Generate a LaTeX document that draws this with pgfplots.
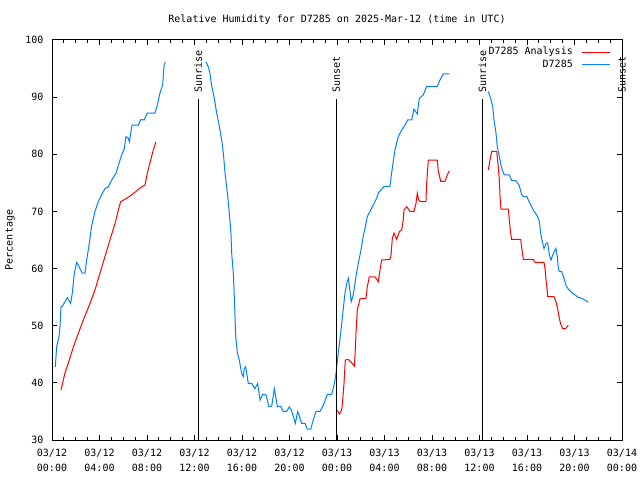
\documentclass[border=0pt]{standalone}
\usepackage{pgfplots}
\pgfplotsset{compat=1.18}
\usepackage{fontspec}
\setmainfont{DejaVu Sans Mono}
\definecolor{rhred}{RGB}{255,0,0}
\definecolor{rhblue}{RGB}{0,128,255}
\begin{document}
\fontsize{10pt}{12pt}\selectfont
\begin{tikzpicture}
\begin{axis}[
  at={(52pt,40pt)}, anchor=south west,
  scale only axis, width=570pt, height=400pt,
  xmin=0, xmax=48, ymin=30, ymax=100,
  clip=false,
  xtick={0,4,...,48},
  xticklabels={{03/12\\00:00},{03/12\\04:00},{03/12\\08:00},{03/12\\12:00},{03/12\\16:00},{03/12\\20:00},{03/13\\00:00},{03/13\\04:00},{03/13\\08:00},{03/13\\12:00},{03/13\\16:00},{03/13\\20:00},{03/14\\00:00}},
  x tick label style={align=center, font=\fontsize{10pt}{14.5pt}\selectfont, yshift=-6pt},
  y tick label style={xshift=-5pt},
  minor x tick num=3,
  ytick={30,40,...,100},
  /pgf/number format/assume math mode=true,
  tick align=inside,
  major tick length=5pt, minor tick length=3pt,
  every tick/.style={black, line width=1pt},
  axis line style={line width=1pt},
  ylabel={Percentage},
  ylabel style={at={(axis description cs:-0.0737,0.5)}, anchor=center},
  title={Relative Humidity for D7285 on 2025-Mar-12 (time in UTC)},
  title style={at={(axis description cs:0.5,1)}, anchor=center, yshift=14pt},
  unbounded coords=jump,
  legend cell align=right,
  legend plot pos=right,
  legend style={draw=none, fill=none, at={(rel axis cs:0.9807,0.985)}, anchor=north east, row sep=0pt, column sep=0pt, inner sep=0pt,
    nodes={inner sep=0pt, text height=8.5pt, text depth=4pt},
    /tikz/every odd column/.append style={column sep=9pt}},
  legend image code/.code={\draw[#1] (0pt,0pt) -- (28pt,0pt);},
]
\addlegendimage{rhred, line width=1pt}
\addlegendentry{D7285 Analysis}
\addlegendimage{rhblue, line width=1pt}
\addlegendentry{D7285}
\addplot[rhred, line width=1pt, forget plot] coordinates {
(0.76,38.75) (1.09,41.7) (1.46,44.0) (1.8,46.3) (2.22,48.7) (2.64,51.0) (3.2,53.9) (3.62,56.25) (4.04,59.2) (4.46,62.1) (4.88,65) (5.31,67.9) (5.59,70.25) (5.78,71.7) (6.29,72.3) (6.71,72.9) (7.13,73.6) (7.55,74.3) (7.83,74.6) (8.03,76.7) (8.31,79.0) (8.53,80.75) (8.76,82.2)
(15,nan)
(23.97,35.25) (24.2,34.55) (24.39,35.25) (24.47,36.7) (24.59,39.9) (24.7,44.0) (24.96,44.1) (25.24,43.5) (25.46,42.95) (25.52,44.9) (25.6,48.7) (25.71,52.75) (25.94,54.7) (26.44,54.8) (26.55,56.8) (26.72,58.55) (27.2,58.55) (27.48,57.7) (27.62,59.75) (27.76,61.5) (28.46,61.6) (28.55,62.4) (28.66,65.3) (28.8,66.2) (29.03,65.1) (29.25,66.45) (29.45,66.75) (29.58,68.5) (29.64,70.25) (29.87,70.8) (30.15,70) (30.48,70) (30.65,71.4) (30.76,73.2) (30.88,72.0) (31.04,71.7) (31.49,71.7) (31.55,74.9) (31.69,79.0) (32.45,79.0) (32.53,77.0) (32.74,75.25) (33.09,75.25) (33.29,76.4) (33.46,77.1)
(35,nan)
(36.74,77.25) (36.88,79.0) (37.03,80.5) (37.45,80.5) (37.58,77.8) (37.67,75.5) (37.73,72.6) (37.81,70.4) (38.43,70.4) (38.51,68.5) (38.62,66.2) (38.71,65.1) (39.47,65.1) (39.56,63.5) (39.64,62.4) (39.69,61.6) (40.53,61.6) (40.67,61.1) (41.43,61.1) (41.52,60.0) (41.6,58.0) (41.71,56.0) (41.71,55.1) (42.27,55.1) (42.44,54.2) (42.55,53.3) (42.64,52.3) (42.72,51.3) (42.84,50.3) (43.0,49.5) (43.25,49.5) (43.48,50.1)
};
\addplot[rhblue, line width=1pt, forget plot] coordinates {
(0.28,42.8) (0.39,46.3) (0.59,48.1) (0.67,49.8) (0.76,53.3) (0.87,53.4) (1.29,54.9) (1.57,53.9) (1.71,55.7) (1.88,59.2) (2.08,61.1) (2.55,59.2) (2.78,59.2) (2.92,61.5) (3.14,64.4) (3.34,67.5) (3.62,70) (3.9,71.7) (4.18,72.9) (4.46,74) (4.74,74.3) (5.03,75.5) (5.39,76.7) (5.59,78.1) (5.87,79.9) (6.09,81.0) (6.23,83.1) (6.43,82.8) (6.51,82.2) (6.74,85.1) (7.27,85.1) (7.49,86.1) (7.75,86.0) (8.03,87.2) (8.67,87.2) (8.87,88.6) (9.09,90.7) (9.32,92.1) (9.43,95.4) (9.54,96.2)
(11,nan)
(12.97,96.2) (13.16,95.3) (13.3,94.2) (13.45,91.9) (13.64,90.1) (13.87,87.2) (14.09,84.9) (14.29,82.5) (14.43,80.2) (14.57,76.7) (14.77,73.2) (14.93,69.7) (15.07,66.2) (15.13,62.7) (15.27,59.2) (15.35,55.1) (15.47,48.1) (15.61,45.2) (15.77,44) (15.97,41.7) (16.11,41.1) (16.19,42.5) (16.31,42.8) (16.53,39.9) (16.81,39.9) (17.09,39.0) (17.32,39.9) (17.52,37) (17.74,38.0) (18.02,37.9) (18.25,35.9) (18.5,35.9) (18.72,39.0) (18.98,35.9) (19.26,35.9) (19.48,35.0) (19.76,35.0) (19.98,35.8) (20.18,35.1) (20.49,32.9) (20.69,35.0) (21.03,32.9) (21.31,32.9) (21.5,31.9) (21.79,31.9) (22.0,33.5) (22.23,35.0) (22.57,35.0) (22.85,36.1) (23.19,38.0) (23.55,38.0) (23.75,39.6) (23.92,41.7) (24.12,45.5) (24.31,48.7) (24.49,52.2) (24.67,55.7) (24.82,57.4) (24.96,58.3) (25.1,56.0) (25.2,54.2) (25.37,55.4) (25.6,58.6) (25.79,60.9) (26.02,63.25) (26.2,65.6) (26.36,67.0) (26.55,69.1) (26.78,70.0) (27.05,71.1) (27.34,72.3) (27.5,73.3) (27.98,74.4) (28.46,74.4) (28.6,76.7) (28.74,78.8) (28.88,80.75) (29.16,83.1) (29.45,84.25) (29.73,85.1) (29.95,86.0) (30.29,86.0) (30.48,87.9) (30.76,87.05) (30.93,89.8) (31.27,90.4) (31.55,91.9) (32.45,91.9) (32.67,93.0) (32.95,94.05) (33.46,94.05)
(35,nan)
(36.74,91.0) (36.94,89.8) (37.11,88.4) (37.22,86.0) (37.39,83.7) (37.5,81.3) (37.67,79.6) (37.81,78.1) (37.92,77.25) (38.09,76.4) (38.51,76.4) (38.71,75.4) (39.05,75.4) (39.33,74.6) (39.56,72.9) (39.69,72.6) (39.98,72.6) (40.25,71.4) (40.53,70.25) (40.9,69.1) (41.04,68.25) (41.15,66.2) (41.26,65) (41.43,63.5) (41.6,64.4) (41.74,64.5) (41.88,62.4) (42.02,61.5) (42.22,62.7) (42.44,63.5) (42.55,62.1) (42.64,60.0) (42.72,59.45) (42.92,59.45) (43.12,58.3) (43.28,57.1) (43.48,56.4) (43.76,55.8) (44.04,55.4) (44.27,55.0) (44.6,54.8) (44.88,54.5) (45.16,54.1)
};
\addplot[black, line width=1pt, forget plot] coordinates {(12.3,30) (12.3,89.7)};
\addplot[black, line width=1pt, forget plot] coordinates {(23.93,30) (23.93,89.7)};
\addplot[black, line width=1pt, forget plot] coordinates {(36.24,30) (36.24,89.7)};
\addplot[black, line width=1pt, forget plot] coordinates {(48,30) (48,89.7)};
\node[rotate=90, anchor=west, inner sep=0pt] at (axis cs:12.3,90.7) {Sunrise};
\node[rotate=90, anchor=west, inner sep=0pt] at (axis cs:23.93,90.7) {Sunset};
\node[rotate=90, anchor=west, inner sep=0pt] at (axis cs:36.24,90.7) {Sunrise};
\node[rotate=90, anchor=west, inner sep=0pt] at (axis cs:48,90.7) {Sunset};
\end{axis}
\pgfresetboundingbox
\useasboundingbox (0,0) rectangle (640pt,480pt);
\end{tikzpicture}
\end{document}
